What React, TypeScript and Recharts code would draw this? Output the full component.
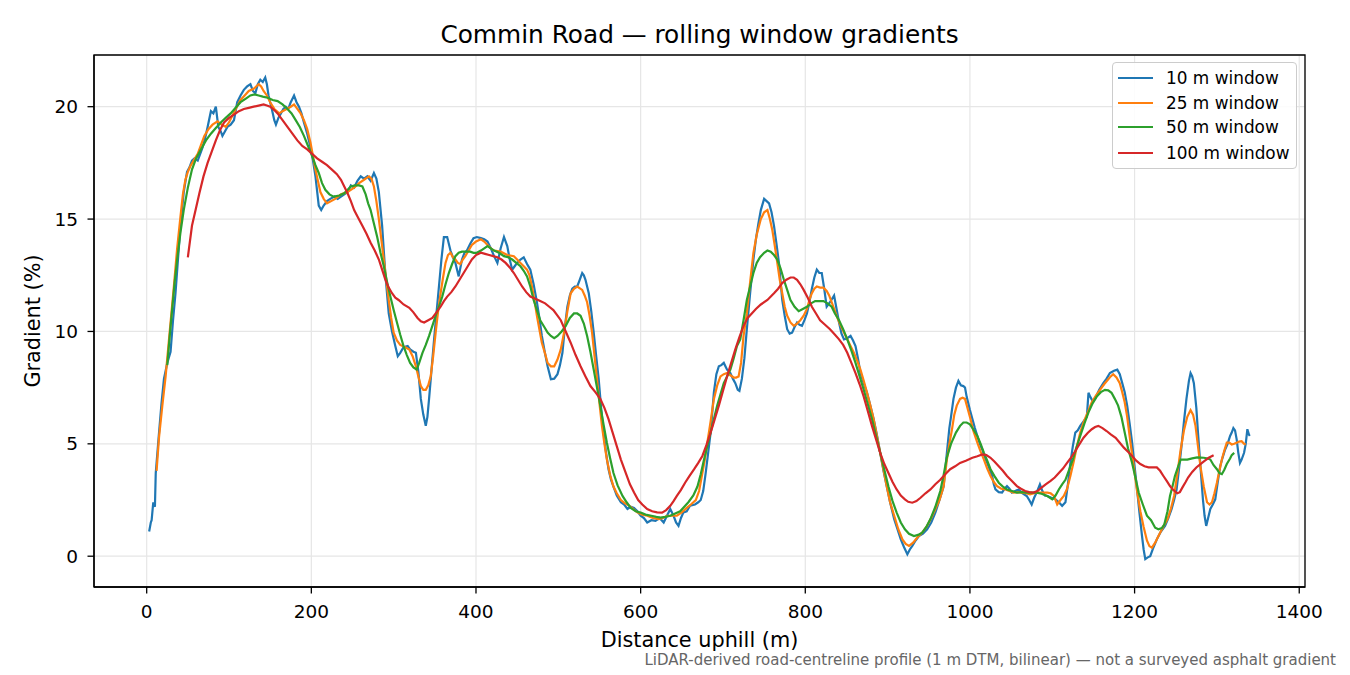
import React from 'react';
import {
  LineChart,
  Line,
  XAxis,
  YAxis,
  CartesianGrid,
  ReferenceArea,
  Legend,
} from 'recharts';

// ---- data: [distance uphill (m), gradient (%)] ----
const win10: [number, number][] = [
  [3,1.1],[5,1.5],[6,1.6],[8,2.4],[10,2.2],[11,3.7],[15,5.5],[18,6.8],[21,7.9],[25,8.6],[29,9.1],[32,10.5],[35,11.7],[38,13.2],[41,14.7],[45,16.2],[49,17.1],[52,17.3],[55,17.6],[58,17.7],[62,17.6],[65,17.9],[68,18.2],[71,18.6],[74,19.1],[78,19.8],[81,19.7],[84,20.0],[87,19.1],[90,18.9],[92,18.7],[95,18.9],[98,19.1],[102,19.2],[106,19.4],[110,20.2],[114,20.5],[118,20.75],[122,20.9],[126,21.0],[129,20.7],[132,20.6],[135,21.0],[138,21.2],[141,21.1],[144,21.3],[146,21.0],[148,20.5],[152,19.9],[155,19.4],[157,19.2],[160,19.5],[163,19.7],[166,19.9],[169,20.0],[172,19.9],[175,20.2],[179,20.5],[182,20.2],[185,20.0],[188,19.7],[191,19.3],[195,18.8],[199,18.2],[202,17.6],[205,16.9],[209,15.6],[212,15.4],[215,15.6],[219,15.8],[223,15.9],[228,16.0],[232,15.9],[236,16.0],[240,16.1],[244,16.2],[248,16.5],[252,16.4],[256,16.7],[260,16.9],[264,16.8],[268,16.9],[272,16.7],[276,17.05],[279,16.8],[282,16.2],[286,14.7],[290,12.5],[294,10.8],[298,10.0],[302,9.35],[305,8.9],[308,9.05],[312,9.3],[317,9.35],[320,9.2],[324,9.1],[327,9.05],[330,8.2],[333,7.0],[336,6.3],[339,5.8],[341,6.2],[343,7.0],[346,8.3],[349,9.6],[352,10.8],[355,12.0],[358,13.2],[361,14.2],[365,14.2],[367,13.9],[369,13.6],[372,13.3],[375,13.05],[379,12.45],[383,13.2],[386,13.5],[389,13.6],[393,13.9],[397,14.15],[401,14.2],[406,14.15],[410,14.1],[414,14.0],[418,13.7],[422,13.35],[426,13.05],[430,13.7],[434,14.2],[438,13.8],[441,13.2],[444,12.75],[447,12.9],[450,13.05],[454,13.2],[458,13.3],[462,13.0],[466,12.75],[470,12.1],[474,11.3],[477,10.6],[480,9.8],[484,9.0],[487,8.45],[491,7.87],[495,7.9],[499,8.1],[502,8.5],[505,9.05],[508,10.2],[511,11.1],[514,11.6],[517,11.9],[520,12.0],[523,12.0],[526,12.3],[529,12.6],[531,12.5],[533,12.3],[537,11.7],[540,10.9],[543,9.95],[546,8.9],[549,7.9],[552,6.6],[555,5.5],[558,4.6],[561,3.87],[564,3.4],[567,3.1],[571,2.7],[576,2.4],[580,2.3],[584,2.1],[588,2.2],[592,2.15],[596,2.0],[600,1.8],[604,1.7],[608,1.5],[613,1.6],[618,1.57],[623,1.7],[628,1.5],[632,1.8],[636,2.1],[640,1.8],[643,1.5],[646,1.35],[649,1.7],[652,1.95],[656,2.0],[660,2.25],[666,2.3],[670,2.4],[673,2.5],[676,2.9],[679,3.7],[682,4.6],[685,5.5],[689,7.3],[692,8.1],[695,8.45],[698,8.5],[701,8.6],[705,8.3],[709,8.15],[712,7.9],[715,7.7],[718,7.4],[720,7.35],[723,7.9],[726,8.8],[729,10.1],[733,11.7],[737,13.2],[740,14.1],[743,14.8],[746,15.4],[750,15.9],[753,15.8],[756,15.7],[759,15.3],[762,14.7],[765,13.9],[768,13.05],[772,11.4],[775,10.7],[778,10.1],[781,9.9],[784,9.95],[787,10.2],[790,10.4],[793,10.3],[796,10.25],[799,10.5],[802,10.8],[805,11.3],[808,11.9],[811,12.4],[814,12.75],[817,12.6],[820,12.6],[823,11.9],[826,11.1],[830,11.3],[835,11.6],[838,11.0],[841,10.4],[844,9.9],[847,9.65],[851,9.7],[855,9.8],[858,9.6],[861,9.35],[864,8.8],[867,8.15],[871,7.7],[875,7.27],[879,6.7],[883,6.1],[887,5.4],[891,4.6],[895,3.8],[899,3.1],[903,2.4],[908,1.65],[912,1.2],[916,0.75],[920,0.4],[924,0.09],[927,0.3],[930,0.46],[934,0.7],[938,0.9],[943,1.0],[948,1.2],[953,1.5],[958,1.94],[963,2.5],[968,3.1],[972,4.6],[975,5.7],[977,6.2],[980,7.0],[983,7.5],[986,7.8],[989,7.6],[992,7.57],[994,7.5],[996,7.1],[1000,6.5],[1003,6.1],[1006,5.7],[1009,5.35],[1012,5.0],[1015,4.75],[1018,4.4],[1021,4.15],[1024,3.85],[1027,3.57],[1029,3.2],[1031,2.97],[1035,2.85],[1039,2.83],[1042,3.0],[1045,3.12],[1048,3.0],[1051,2.83],[1055,2.9],[1059,2.97],[1064,2.8],[1069,2.68],[1072,2.5],[1075,2.3],[1078,2.6],[1081,2.83],[1085,3.2],[1088,2.9],[1091,2.7],[1094,2.68],[1099,2.6],[1104,2.53],[1108,2.4],[1112,2.24],[1116,2.4],[1119,3.2],[1122,4.15],[1125,4.9],[1128,5.5],[1131,5.6],[1134,5.8],[1138,6.0],[1142,6.2],[1144,7.27],[1146,7.1],[1149,6.9],[1152,7.0],[1157,7.4],[1162,7.7],[1166,7.9],[1170,8.15],[1175,8.25],[1179,8.3],[1182,8.1],[1185,7.7],[1188,7.3],[1191,6.7],[1194,5.9],[1197,5.05],[1200,4.0],[1203,2.97],[1206,1.9],[1209,0.9],[1211,0.3],[1213,-0.13],[1216,-0.05],[1219,0.0],[1223,0.4],[1227,0.75],[1232,1.1],[1237,1.35],[1241,1.7],[1245,2.1],[1248,2.5],[1251,2.97],[1254,3.9],[1257,4.9],[1260,6.0],[1263,7.0],[1266,7.8],[1268,8.15],[1270,8.0],[1272,7.7],[1275,6.6],[1277,5.5],[1280,4.0],[1283,2.53],[1285,1.8],[1287,1.35],[1290,1.8],[1292,2.1],[1295,2.3],[1298,2.53],[1301,3.3],[1304,4.0],[1307,4.4],[1310,4.75],[1313,5.0],[1316,5.35],[1318,5.5],[1320,5.7],[1322,5.6],[1324,5.2],[1326,4.6],[1328,4.15],[1330,4.3],[1333,4.6],[1335,5.0],[1337,5.65],[1339,5.4],[1340,5.35],
];

const win25: [number, number][] = [
  [12,3.8],[15,5.3],[19,6.7],[23,8.0],[28,10.0],[33,12.0],[37,13.7],[41,15.1],[44,16.1],[47,16.75],[50,17.1],[53,17.35],[57,17.6],[62,17.9],[66,18.3],[70,18.7],[75,19.0],[80,19.2],[86,19.35],[91,19.2],[96,19.1],[100,19.3],[104,19.6],[109,19.95],[114,20.3],[119,20.5],[124,20.7],[130,20.8],[136,21.0],[139,20.9],[142,20.7],[146,20.5],[150,20.2],[155,19.9],[161,19.7],[165,19.8],[170,19.9],[175,20.0],[179,20.1],[183,19.9],[187,19.7],[191,19.4],[195,19.0],[199,18.4],[202,17.8],[205,17.2],[208,16.7],[211,16.2],[215,15.9],[219,15.7],[224,15.8],[229,15.9],[236,16.1],[244,16.2],[252,16.4],[258,16.6],[264,16.75],[270,16.9],[273,16.8],[276,16.45],[279,15.8],[282,15.0],[285,14.1],[288,13.2],[291,12.3],[294,11.4],[297,10.6],[300,9.95],[304,9.6],[308,9.4],[314,9.3],[319,9.2],[323,8.9],[327,8.45],[330,8.0],[333,7.57],[336,7.4],[339,7.4],[342,7.6],[345,8.0],[348,8.9],[351,9.95],[354,10.9],[357,11.7],[360,12.4],[363,13.05],[366,13.4],[369,13.5],[372,13.3],[375,13.2],[378,13.05],[381,13.0],[384,13.2],[387,13.35],[391,13.6],[395,13.85],[400,14.0],[406,14.1],[410,14.0],[414,13.85],[418,13.7],[422,13.6],[430,13.55],[438,13.4],[446,13.35],[450,13.2],[454,13.05],[458,12.9],[462,12.75],[465,12.5],[468,12.0],[471,11.4],[474,10.7],[477,10.1],[480,9.5],[484,9.0],[487,8.6],[491,8.45],[495,8.45],[499,8.75],[503,9.2],[507,9.95],[511,10.9],[515,11.7],[519,11.9],[523,12.0],[529,11.85],[532,11.6],[535,11.3],[538,10.7],[541,9.95],[544,8.9],[547,7.87],[550,6.8],[553,5.8],[556,5.0],[559,4.3],[563,3.6],[567,3.1],[571,2.8],[576,2.5],[581,2.35],[586,2.25],[591,2.1],[596,1.95],[602,1.85],[608,1.8],[615,1.7],[622,1.65],[627,1.7],[632,1.8],[638,1.8],[644,1.8],[650,1.95],[656,2.15],[661,2.3],[667,2.5],[671,2.9],[675,3.7],[678,4.3],[681,5.05],[685,6.0],[689,7.0],[693,7.6],[697,8.0],[701,8.1],[705,8.15],[709,8.05],[713,7.95],[716,7.95],[719,8.0],[722,8.6],[725,9.8],[729,10.8],[733,12.2],[737,13.5],[741,14.3],[746,15.0],[750,15.3],[754,15.4],[757,15.0],[760,14.5],[763,13.8],[766,13.05],[769,12.3],[772,11.7],[775,11.1],[778,10.7],[782,10.4],[786,10.25],[790,10.35],[794,10.5],[798,10.7],[802,11.0],[805,11.4],[808,11.7],[811,11.9],[814,12.0],[818,11.95],[822,11.95],[826,11.8],[829,11.6],[832,11.3],[835,11.0],[839,10.6],[843,10.25],[847,9.95],[851,9.65],[855,9.35],[859,9.05],[863,8.7],[867,8.3],[871,7.8],[875,7.27],[879,6.7],[883,6.1],[887,5.35],[891,4.6],[895,3.85],[899,3.1],[903,2.4],[908,1.8],[913,1.2],[918,0.75],[922,0.55],[926,0.46],[931,0.6],[936,0.83],[942,1.05],[948,1.35],[953,1.7],[958,2.1],[963,2.5],[968,3.1],[972,4.3],[975,5.0],[978,5.6],[981,6.3],[984,6.7],[988,7.0],[991,7.05],[994,7.0],[997,6.6],[1000,6.2],[1004,5.6],[1009,5.05],[1013,4.65],[1017,4.3],[1021,3.9],[1025,3.57],[1029,3.3],[1033,3.12],[1038,3.0],[1043,2.97],[1048,2.9],[1053,2.83],[1058,2.85],[1063,2.83],[1068,2.8],[1073,2.75],[1078,2.8],[1083,2.83],[1088,2.83],[1094,2.83],[1098,2.8],[1102,2.68],[1106,2.3],[1110,2.5],[1114,2.68],[1118,3.0],[1122,3.57],[1126,4.2],[1130,4.9],[1134,5.5],[1138,5.95],[1143,6.4],[1148,6.85],[1153,7.15],[1158,7.4],[1163,7.65],[1168,7.87],[1171,8.0],[1174,8.1],[1178,7.95],[1182,7.7],[1185,7.3],[1188,6.85],[1191,6.2],[1195,5.05],[1199,4.0],[1203,2.9],[1207,2.0],[1211,1.3],[1215,0.7],[1218,0.45],[1221,0.38],[1225,0.6],[1229,0.9],[1234,1.25],[1240,1.65],[1244,2.1],[1248,2.68],[1252,3.7],[1256,4.75],[1260,5.6],[1264,6.2],[1268,6.5],[1271,6.3],[1274,5.8],[1277,4.9],[1280,4.0],[1284,3.1],[1288,2.4],[1291,2.3],[1294,2.4],[1297,2.8],[1300,3.27],[1303,3.8],[1306,4.3],[1309,4.7],[1312,5.05],[1315,5.05],[1318,4.97],[1321,5.0],[1324,5.05],[1327,5.1],[1330,5.12],[1333,5.0],[1335,4.97],
];

const win50: [number, number][] = [
  [25,8.5],[28,9.8],[31,11.0],[34,12.2],[37,13.2],[41,14.4],[45,15.4],[50,16.4],[55,17.2],[60,17.7],[66,18.1],[72,18.5],[78,18.8],[84,19.05],[90,19.3],[96,19.5],[102,19.7],[108,19.95],[114,20.2],[120,20.35],[126,20.5],[131,20.55],[136,20.5],[141,20.45],[147,20.4],[153,20.3],[159,20.25],[165,20.1],[171,19.9],[176,19.7],[181,19.4],[186,19.1],[191,18.7],[196,18.25],[201,17.8],[205,17.4],[209,17.05],[213,16.6],[217,16.3],[222,16.1],[227,16.0],[234,16.05],[240,16.15],[248,16.45],[253,16.5],[258,16.5],[262,16.45],[266,16.1],[269,15.7],[272,15.4],[276,14.8],[280,14.2],[284,13.5],[288,12.9],[292,12.2],[296,11.55],[300,10.95],[304,10.4],[308,9.85],[312,9.35],[316,8.95],[320,8.6],[324,8.4],[328,8.3],[331,8.6],[335,9.05],[339,9.4],[343,9.8],[347,10.25],[351,10.7],[355,11.1],[359,11.55],[363,12.1],[367,12.6],[371,13.0],[375,13.35],[379,13.5],[383,13.55],[388,13.55],[393,13.55],[397,13.5],[401,13.5],[406,13.6],[410,13.7],[414,13.8],[418,13.7],[422,13.6],[428,13.5],[434,13.35],[439,13.3],[444,13.2],[449,13.05],[454,12.9],[458,12.7],[462,12.45],[466,12.0],[470,11.4],[474,10.95],[478,10.5],[483,10.2],[487,9.95],[491,9.8],[495,9.7],[499,9.8],[504,10.0],[509,10.25],[514,10.6],[519,10.8],[523,10.8],[527,10.7],[531,10.35],[535,9.8],[539,9.1],[543,8.3],[547,7.5],[551,6.7],[555,5.85],[559,5.05],[563,4.35],[567,3.7],[572,3.15],[578,2.68],[583,2.4],[588,2.15],[594,2.0],[600,1.94],[606,1.85],[613,1.8],[619,1.75],[624,1.72],[630,1.75],[636,1.8],[642,1.9],[648,2.0],[653,2.2],[658,2.4],[664,2.7],[669,3.1],[673,3.65],[677,4.3],[681,4.9],[685,5.5],[689,6.1],[693,6.7],[697,7.2],[701,7.7],[705,8.0],[709,8.3],[713,8.8],[717,9.35],[721,9.65],[725,10.5],[729,11.4],[733,12.0],[737,12.6],[741,13.05],[745,13.3],[750,13.5],[754,13.6],[758,13.55],[762,13.4],[766,13.2],[770,12.8],[774,12.3],[778,11.85],[782,11.4],[787,11.1],[792,10.9],[797,11.0],[802,11.1],[807,11.25],[812,11.35],[817,11.35],[822,11.35],[827,11.25],[832,11.1],[836,10.8],[841,10.5],[846,10.1],[851,9.65],[856,9.15],[861,8.6],[866,8.0],[871,7.4],[876,6.75],[881,6.1],[886,5.35],[891,4.6],[896,3.85],[901,3.1],[906,2.45],[911,1.94],[916,1.5],[921,1.2],[926,1.0],[932,0.9],[937,0.95],[942,1.05],[947,1.3],[952,1.65],[958,2.2],[964,2.9],[968,3.6],[972,4.4],[977,5.0],[983,5.5],[988,5.8],[992,5.95],[996,5.95],[1000,5.87],[1004,5.65],[1009,5.35],[1013,5.0],[1017,4.6],[1021,4.25],[1025,3.87],[1030,3.55],[1035,3.27],[1040,3.1],[1045,2.97],[1051,2.9],[1057,2.83],[1063,2.85],[1069,2.83],[1075,2.83],[1081,2.83],[1087,2.78],[1094,2.68],[1100,2.53],[1104,2.7],[1108,2.97],[1112,3.2],[1116,3.4],[1120,3.8],[1125,4.3],[1129,4.8],[1134,5.35],[1139,5.9],[1144,6.4],[1149,6.8],[1154,7.1],[1159,7.3],[1164,7.4],[1168,7.38],[1172,7.27],[1176,7.0],[1180,6.7],[1184,6.2],[1188,5.5],[1192,4.8],[1197,4.15],[1201,3.5],[1205,2.83],[1210,2.3],[1215,1.8],[1220,1.6],[1225,1.27],[1229,1.2],[1233,1.25],[1236,1.4],[1240,2.0],[1243,2.68],[1246,3.1],[1249,3.57],[1253,4.0],[1256,4.3],[1260,4.3],[1264,4.3],[1270,4.35],[1276,4.4],[1284,4.38],[1289,4.35],[1292,4.3],[1296,4.05],[1300,3.87],[1303,3.7],[1306,3.65],[1309,3.85],[1312,4.1],[1316,4.35],[1318,4.5],[1321,4.6],
];

const win100: [number, number][] = [
  [50,13.3],[55,14.7],[60,15.5],[64,16.15],[69,16.9],[74,17.5],[79,18.0],[84,18.5],[89,18.95],[94,19.3],[100,19.5],[106,19.65],[112,19.8],[118,19.9],[124,19.95],[130,20.0],[136,20.05],[142,20.1],[146,20.05],[150,20.0],[155,19.85],[159,19.7],[165,19.4],[171,19.1],[177,18.8],[183,18.5],[189,18.25],[195,18.1],[201,17.9],[207,17.7],[213,17.55],[219,17.4],[225,17.2],[231,17.0],[236,16.75],[240,16.45],[244,16.15],[248,15.8],[252,15.4],[257,15.05],[262,14.7],[267,14.35],[272,13.95],[277,13.6],[282,13.2],[286,12.75],[290,12.3],[294,11.95],[298,11.7],[302,11.5],[306,11.4],[312,11.2],[319,11.05],[324,10.85],[329,10.6],[333,10.45],[337,10.4],[342,10.5],[347,10.6],[352,10.85],[357,11.1],[361,11.35],[365,11.55],[370,11.75],[375,12.0],[380,12.3],[385,12.6],[390,12.9],[395,13.2],[400,13.4],[406,13.5],[411,13.45],[416,13.4],[421,13.35],[426,13.3],[431,13.2],[436,13.05],[441,12.85],[446,12.6],[451,12.3],[456,12.0],[461,11.75],[466,11.55],[472,11.45],[478,11.35],[484,11.25],[489,11.1],[494,10.95],[499,10.7],[503,10.5],[509,10.0],[515,9.5],[521,8.95],[527,8.45],[533,8.0],[539,7.57],[545,7.3],[551,7.0],[556,6.6],[561,6.1],[566,5.5],[571,4.9],[576,4.3],[582,3.7],[587,3.2],[592,2.83],[597,2.5],[602,2.3],[608,2.1],[614,2.0],[620,1.95],[626,1.94],[631,2.05],[636,2.24],[640,2.45],[644,2.68],[649,2.95],[654,3.27],[659,3.55],[665,3.87],[670,4.15],[675,4.46],[680,4.95],[685,5.5],[690,6.1],[695,6.7],[700,7.35],[705,8.0],[710,8.6],[715,9.2],[720,9.75],[725,10.25],[730,10.6],[735,10.8],[740,11.0],[746,11.2],[754,11.4],[762,11.7],[767,11.9],[772,12.15],[777,12.3],[782,12.4],[786,12.4],[790,12.3],[794,12.1],[798,11.85],[803,11.5],[808,11.1],[813,10.8],[818,10.5],[824,10.3],[830,10.1],[835,9.9],[841,9.65],[846,9.4],[851,9.05],[856,8.6],[861,8.15],[866,7.65],[871,7.1],[876,6.45],[881,5.8],[886,5.2],[891,4.6],[896,4.1],[901,3.7],[906,3.3],[911,2.97],[916,2.7],[921,2.53],[925,2.42],[930,2.38],[935,2.45],[940,2.6],[946,2.8],[952,2.97],[958,3.2],[964,3.4],[970,3.65],[976,3.87],[982,4.0],[988,4.15],[995,4.25],[1003,4.38],[1009,4.45],[1015,4.53],[1020,4.5],[1025,4.38],[1030,4.2],[1035,4.0],[1040,3.8],[1045,3.57],[1051,3.35],[1057,3.12],[1062,3.0],[1067,2.9],[1072,2.85],[1077,2.83],[1082,2.9],[1087,3.05],[1092,3.2],[1098,3.35],[1103,3.5],[1108,3.7],[1113,3.9],[1118,4.15],[1123,4.4],[1128,4.68],[1133,4.98],[1138,5.27],[1143,5.48],[1148,5.65],[1152,5.75],[1156,5.8],[1161,5.7],[1166,5.57],[1171,5.42],[1177,5.27],[1182,5.05],[1187,4.83],[1192,4.65],[1197,4.46],[1202,4.25],[1207,4.1],[1212,4.0],[1217,3.95],[1222,3.95],[1227,3.95],[1231,3.8],[1235,3.57],[1239,3.35],[1243,3.12],[1247,2.95],[1252,2.8],[1255,2.85],[1258,3.05],[1262,3.3],[1265,3.5],[1270,3.75],[1275,3.95],[1280,4.1],[1285,4.24],[1290,4.38],[1296,4.49],
];

const xTicks = [0, 200, 400, 600, 800, 1000, 1200, 1400];
const yTicks = [0, 5, 10, 15, 20];
const seriesNames = ['10 m window', '25 m window', '50 m window', '100 m window'];
const seriesColors = ['#1f77b4', '#ff7f0e', '#2ca02c', '#d62728'];

const TITLE = 'Commin Road — rolling window gradients';
const X_LABEL = 'Distance uphill (m)';
const Y_LABEL = 'Gradient (%)';
const NOTE = 'LiDAR-derived road-centreline profile (1 m DTM, bilinear) — not a surveyed asphalt gradient';

const FONT = '"DejaVu Sans", sans-serif';
const X_DOMAIN: [number, number] = [-64, 1407];
const Y_DOMAIN: [number, number] = [-1.37, 22.3];

const toPts = (arr: [number, number][]) => arr.map(([d, g]) => ({ d, g }));
const seriesData = [toPts(win10), toPts(win25), toPts(win50), toPts(win100)];

const LegendBox = () => (
  <div
    style={{
      position: 'relative',
      width: 185,
      height: 107,
      boxSizing: 'border-box',
      border: '1px solid #cccccc',
      borderRadius: 4,
      background: 'rgba(255,255,255,0.85)',
      fontFamily: FONT,
      fontSize: 16.9,
      color: '#000',
    }}
  >
    {seriesNames.map((n, i) => {
      const cy = [15.4, 40, 64.4, 90.4][i];
      return (
        <div key={n}>
          <div
            style={{
              position: 'absolute',
              left: 5,
              top: cy - 1.1,
              width: 35,
              height: 2.2,
              background: seriesColors[i],
            }}
          />
          <div
            style={{
              position: 'absolute',
              left: 53,
              top: cy - 11,
              lineHeight: '22px',
              whiteSpace: 'nowrap',
            }}
          >
            {n}
          </div>
        </div>
      );
    })}
  </div>
);

export default function App() {
  return (
    <div style={{ position: 'absolute', left: 0, top: 0, width: 1350, height: 675, background: '#fff' }}>
      <LineChart width={1350} height={675} margin={{ top: 55, right: 45, bottom: 0, left: 0 }}>
        <CartesianGrid stroke="#e6e6e6" strokeWidth={1.2} />
        <XAxis
          type="number"
          dataKey="d"
          domain={X_DOMAIN}
          ticks={xTicks}
          allowDataOverflow
          height={88}
          tickSize={6.5}
          tickMargin={11}
          tickLine={{ stroke: '#000', strokeWidth: 1.3 }}
          axisLine={{ stroke: '#000', strokeWidth: 1.3 }}
          tick={{ fill: '#000', fontSize: 18.5, fontFamily: FONT }}
        />
        <YAxis
          type="number"
          domain={Y_DOMAIN}
          ticks={yTicks}
          allowDataOverflow
          width={94}
          tickSize={6.5}
          tickMargin={9.5}
          tickLine={{ stroke: '#000', strokeWidth: 1.3 }}
          axisLine={{ stroke: '#000', strokeWidth: 1.3 }}
          tick={{ fill: '#000', fontSize: 18.5, fontFamily: FONT }}
        />
        <ReferenceArea
          x1={X_DOMAIN[0]}
          x2={X_DOMAIN[1]}
          y1={Y_DOMAIN[0]}
          y2={Y_DOMAIN[1]}
          fill="none"
          stroke="#000"
          strokeWidth={1.3}
        />
        {seriesData.map((data, i) => (
          <Line
            key={seriesNames[i]}
            data={data}
            dataKey="g"
            name={seriesNames[i]}
            type="linear"
            stroke={seriesColors[i]}
            strokeWidth={2.2}
            dot={false}
            activeDot={false}
            isAnimationActive={false}
          />
        ))}
        <Legend
          layout="vertical"
          align="center"
          verticalAlign="middle"
          content={() => <LegendBox />}
          wrapperStyle={{ position: 'absolute', left: 1112, top: 62, width: 185, height: 107 }}
        />
      </LineChart>
      <svg
        width={1350}
        height={675}
        style={{ position: 'absolute', left: 0, top: 0, pointerEvents: 'none' }}
      >
        <text x={699.5} y={43.3} textAnchor="middle" fontFamily={FONT} fontSize={24.8} fill="#000">
          {TITLE}
        </text>
        <text x={699.5} y={647} textAnchor="middle" fontFamily={FONT} fontSize={20.8} fill="#000">
          {X_LABEL}
        </text>
        <text
          x={0}
          y={0}
          transform="translate(40,321) rotate(-90)"
          textAnchor="middle"
          fontFamily={FONT}
          fontSize={20.8}
          fill="#000"
        >
          {Y_LABEL}
        </text>
        <text x={1336} y={664.5} textAnchor="end" fontFamily={FONT} fontSize={15} fill="#666">
          {NOTE}
        </text>
      </svg>
    </div>
  );
}
